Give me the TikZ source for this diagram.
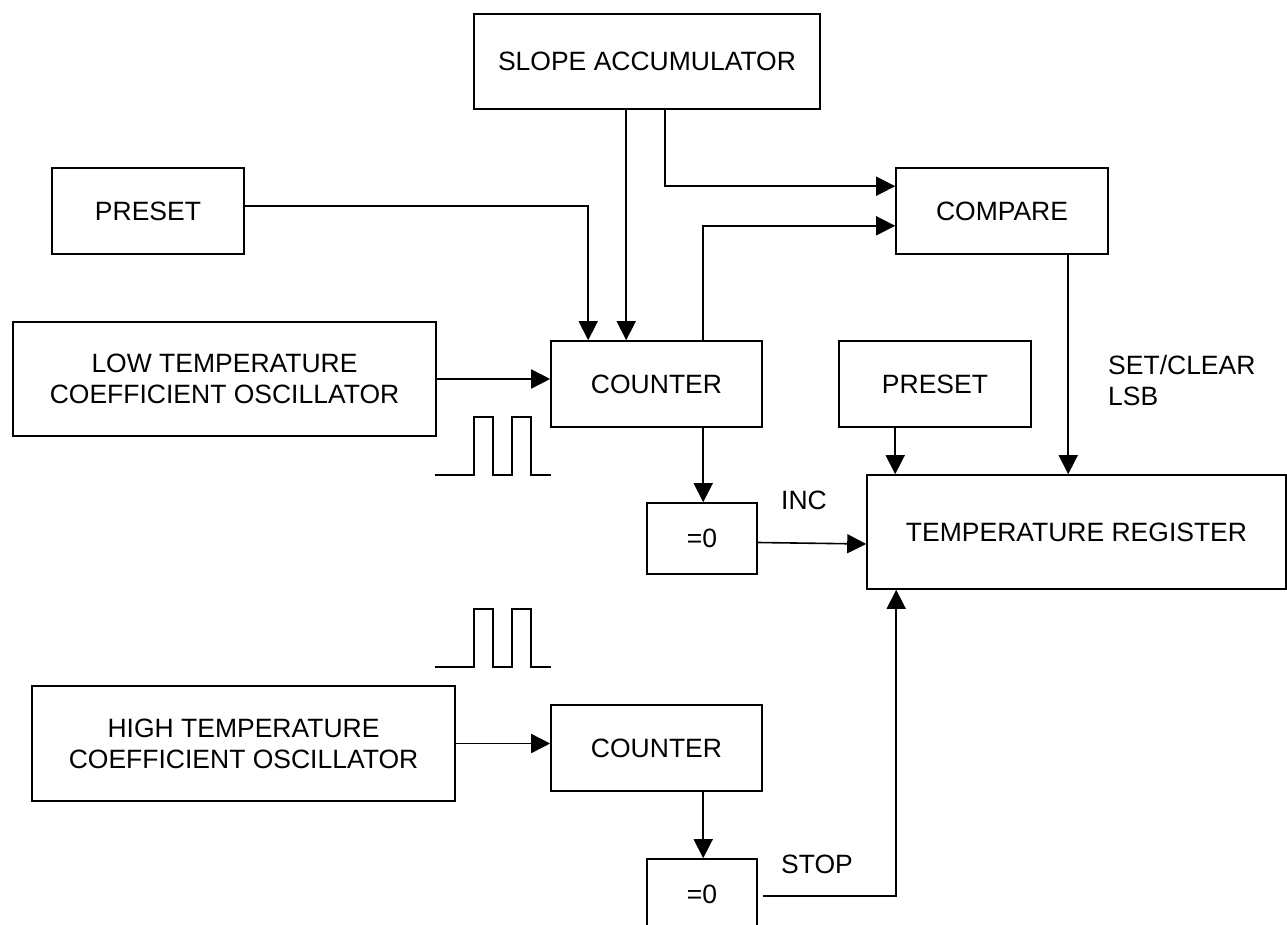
\documentclass[tikz,border=0pt]{standalone}
\usepackage{fontspec}
\setmainfont{Liberation Sans}
\usetikzlibrary{arrows.meta}
\begin{document}
\begin{tikzpicture}[x=1pt,y=-1pt,
  box/.style={draw,line width=1.6pt,inner sep=0pt,align=center,font=\fontsize{26.5}{31}\selectfont},
  lbl/.style={inner sep=0pt,align=left,font=\fontsize{26.5}{31}\selectfont},
  arr/.style={line width=1.6pt,-{Triangle[length=19pt,width=19pt]}},
  wire/.style={line width=1.6pt},
  pulse/.style={line width=1.6pt}]
\clip (0,0) rectangle (1287,925);
\fill[white] (0,0) rectangle (1287,925);
% boxes
\node[box,minimum width=346pt,minimum height=95pt] (slope) at (647,61.5) {SLOPE ACCUMULATOR};
\node[box,minimum width=192pt,minimum height=86pt] (preset1) at (148,211) {PRESET};
\node[box,minimum width=212pt,minimum height=86pt] (compare) at (1002,211) {COMPARE};
\node[box,minimum width=423pt,minimum height=114pt] (lowosc) at (224.5,379) {LOW TEMPERATURE\\COEFFICIENT OSCILLATOR};
\node[box,minimum width=211pt,minimum height=86pt] (counter1) at (656.5,384) {COUNTER};
\node[box,minimum width=192pt,minimum height=86pt] (preset2) at (935,384) {PRESET};
\node[box,minimum width=110pt,minimum height=71pt] (eq1) at (702,538.5) {=0};
\node[box,minimum width=419pt,minimum height=114pt] (treg) at (1076.5,532) {TEMPERATURE REGISTER};
\node[box,minimum width=423pt,minimum height=115pt] (highosc) at (243.5,743.5) {HIGH TEMPERATURE\\COEFFICIENT OSCILLATOR};
\node[box,minimum width=211pt,minimum height=86pt] (counter2) at (656.5,748) {COUNTER};
\node[box,minimum width=110pt,minimum height=71pt] (eq2) at (702,894.5) {=0};
% labels
\node[lbl,anchor=west] (setclr) at (1108,381) {SET/CLEAR\\LSB};
\node[lbl] (inc) at (804,500) {INC};
\node[lbl] (stop) at (817,864) {STOP};
% connectors
\draw[arr] ([yshift=5pt]preset1.east) -| ([xshift=38pt]counter1.north west);
\draw[arr] ([xshift=153pt]slope.south west) -- ([xshift=76pt]counter1.north west);
\draw[arr] ([xshift=192pt]slope.south west) |- ([yshift=-19pt]compare.north west);
\draw[arr] ([xshift=153pt]counter1.north west) |- ([yshift=29pt]compare.south west);
\draw[arr] (lowosc.east) -- (lowosc.east -| counter1.west);
\draw[arr] ([xshift=153pt]counter1.south west) -- ([xshift=153pt]counter1.south west |- eq1.north);
\draw[arr] ([yshift=-4pt]eq1.east) -- ([yshift=-12pt]treg.west);
\draw[arr] ([xshift=57pt]preset2.south west) -- ([xshift=57pt]preset2.south west |- treg.north);
\draw[arr] ([xshift=173pt]compare.south west) -- ([xshift=173pt]compare.south west |- treg.north);
\draw[arr] (highosc.east) -- (highosc.east -| counter2.west);
\draw[arr] ([xshift=153pt]counter2.south west) -- ([xshift=153pt]counter2.south west |- eq2.north);
\draw[arr] ([xshift=5pt,yshift=-38pt]eq2.north east) -| ([xshift=30pt]treg.south west);
% pulse trains
\draw[pulse] (435,475) -- (474,475) -- (474,417) -- (493,417) -- (493,475) -- (512,475) -- (512,417) -- (531,417) -- (531,475) -- (551,475);
\draw[pulse] (435,667) -- (474,667) -- (474,609) -- (493,609) -- (493,667) -- (512,667) -- (512,609) -- (531,609) -- (531,667) -- (551,667);
\end{tikzpicture}
\end{document}
